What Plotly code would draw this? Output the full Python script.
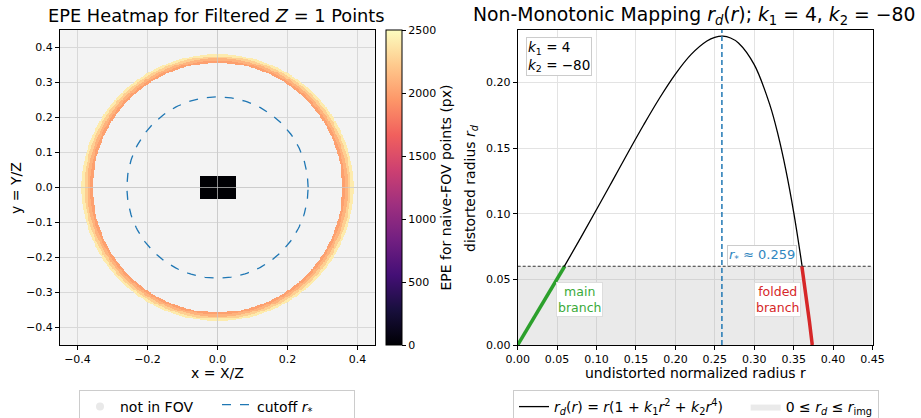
import numpy as np
import plotly.graph_objects as go

# ---------------- data ----------------
# Left panel: grid of normalized image-plane points
grid_min, grid_max, grid_n = -0.45, 0.45, 361
img_half_w, img_half_h = 0.05, 0.0333          # EPE = 0 block (correct points)
ring_inner_x, ring_outer_x = 0.356, 0.388       # folded-branch ring along x
ring_inner_y, ring_outer_y = 0.356, 0.381       # folded-branch ring along y
ring_epe = [2000, 2100, 2250, 2400]             # EPE (px), inner -> outer edge
r_star = 0.259                                  # cutoff radius
epe_range = [0, 2500]
epe_ticks = [0, 500, 1000, 1500, 2000, 2500]

# Right panel: mapping curve r -> r_d
r_vals = [0, 0.02, 0.04, 0.06, 0.08, 0.10, 0.12, 0.14, 0.16, 0.18, 0.20, 0.22,
          0.24, 0.25, 0.26, 0.27, 0.28, 0.30, 0.32, 0.33, 0.34, 0.35, 0.36,
          0.365, 0.37, 0.3736]
rd_vals = [0, 0.0200, 0.0403, 0.0608, 0.0818, 0.1032, 0.1249, 0.1467, 0.1680,
           0.1882, 0.2064, 0.2214, 0.2316, 0.2344, 0.2353, 0.2339, 0.2301,
           0.2136, 0.1826, 0.1607, 0.1337, 0.1013, 0.0629, 0.0412, 0.0179, 0.0]
r_img = 0.06
main_r = [0, 0.02, 0.04, 0.0596]
main_rd = [0, 0.0200, 0.0403, 0.06]
fold_r = [0.3604, 0.365, 0.37, 0.3736]
fold_rd = [0.06, 0.0412, 0.0179, 0.0]

# ---------------- build heatmap grid ----------------
g = np.linspace(grid_min, grid_max, grid_n)
X, Y = np.meshgrid(g, g)
R = np.hypot(X, Y)
c2 = np.where(R > 0, (X / np.where(R > 0, R, 1)) ** 2, 1.0)
inner = ring_inner_y + (ring_inner_x - ring_inner_y) * c2
outer = ring_outer_y + (ring_outer_x - ring_outer_y) * c2
t = (R - inner) / (outer - inner)
Z = np.full(R.shape, np.nan)
ring_mask = (t >= 0) & (t < 1)
idx = np.clip((t * len(ring_epe)).astype(int), 0, len(ring_epe) - 1)
Z[ring_mask] = np.array(ring_epe, dtype=float)[idx[ring_mask]]
Z[(np.abs(X) <= img_half_w) & (np.abs(Y) <= img_half_h)] = 0

W, H = 921, 418
FONT = "DejaVu Sans"

def px_x(p):
    return p / W

def px_y(p):
    return 1 - p / H

fig = go.Figure()

# left heatmap
fig.add_trace(go.Heatmap(
    x=g, y=g, z=Z, zmin=epe_range[0], zmax=epe_range[1],
    colorscale="Magma", zsmooth=False, hoverinfo="skip", showlegend=False,
    xaxis="x", yaxis="y",
    colorbar=dict(
        x=px_x(386), xanchor="left", xpad=0, ypad=0,
        thickness=16, lenmode="pixels", len=315,
        y=px_y(187.5), yanchor="middle",
        outlinewidth=1, outlinecolor="black",
        tickvals=epe_ticks, ticks="outside", ticklen=4, tickcolor="black",
        tickfont=dict(family=FONT, size=11, color="black"),
        title=dict(text="EPE for naive-FOV points (px)", side="right",
                   font=dict(family=FONT, size=14, color="black")),
    ),
))

# legend-only entry for "not in FOV"
fig.add_trace(go.Scatter(
    x=[None], y=[None], mode="markers", name="not in FOV",
    marker=dict(color="#e9e9e9", size=8), xaxis="x", yaxis="y",
    legend="legend",
))

# cutoff circle
theta = np.linspace(0, 2 * np.pi, 240)
fig.add_trace(go.Scatter(
    x=r_star * np.cos(theta), y=r_star * np.sin(theta), mode="lines",
    name="cutoff <i>r</i><sub>*</sub>", fill="toself",
    fillcolor="rgba(255,255,255,0)",
    line=dict(color="#1f77b4", width=1.3, dash="dash"),
    xaxis="x", yaxis="y", legend="legend", hoverinfo="skip",
))

# right panel: band
fig.add_trace(go.Scatter(
    x=[0, 0.45, 0.45, 0, 0], y=[0, 0, r_img, r_img, 0], mode="lines",
    fill="toself", fillcolor="rgba(160,160,160,0.22)",
    line=dict(width=0, color="rgba(0,0,0,0)"),
    name="0 ≤ <i>r<sub>d</sub></i> ≤ <i>r</i><sub>img</sub>",
    xaxis="x2", yaxis="y2", legend="legend2", hoverinfo="skip",
))
# curve
fig.add_trace(go.Scatter(
    x=r_vals, y=rd_vals, mode="lines", line=dict(color="black", width=1.3, shape="spline"),
    name="<i>r<sub>d</sub></i>(<i>r</i>) = <i>r</i>(1 + <i>k</i><sub>1</sub><i>r</i><sup>2</sup> + <i>k</i><sub>2</sub><i>r</i><sup>4</sup>)\u00a0\u00a0\u00a0\u00a0",
    xaxis="x2", yaxis="y2", legend="legend2", hoverinfo="skip",
))
fig.add_trace(go.Scatter(
    x=main_r, y=main_rd, mode="lines", line=dict(color="#2ca02c", width=3.5),
    showlegend=False, xaxis="x2", yaxis="y2", hoverinfo="skip",
))
fig.add_trace(go.Scatter(
    x=fold_r, y=fold_rd, mode="lines", line=dict(color="#d62728", width=3.5),
    showlegend=False, xaxis="x2", yaxis="y2", hoverinfo="skip",
))

# legend order: curve before band
fig.data[3].legendrank = 2
fig.data[4].legendrank = 1

axis_common = dict(
    showline=True, mirror=True, linecolor="black", linewidth=1,
    ticks="outside", ticklen=4, tickcolor="black",
    tickfont=dict(family=FONT, size=11, color="black"),
    zeroline=False, showgrid=True, gridwidth=1,
)

fig.update_layout(
    width=W, height=H, margin=dict(l=0, r=0, t=0, b=0, autoexpand=False),
    paper_bgcolor="white", plot_bgcolor="white",
    font=dict(family=FONT, color="black"),
    xaxis=dict(domain=[px_x(60), px_x(375)], range=[-0.45, 0.45],
               tickvals=[-0.4, -0.2, 0, 0.2, 0.4], tickformat=".1f",
               gridcolor="#d8d8d8", anchor="y", **axis_common),
    yaxis=dict(domain=[px_y(345), px_y(30)], range=[-0.45, 0.45],
               tick0=0, dtick=0.1, tickformat=".1f",
               gridcolor="#d8d8d8", anchor="x", **axis_common),
    xaxis2=dict(domain=[px_x(517.7), px_x(872.5)], range=[0, 0.45],
                tick0=0, dtick=0.05, tickformat=".2f",
                gridcolor="#e3e3e3", anchor="y2", **axis_common),
    yaxis2=dict(domain=[px_y(345), px_y(30)], range=[0, 0.24],
                tick0=0, dtick=0.05, tickformat=".2f",
                gridcolor="#e3e3e3", anchor="x2", **axis_common),
    legend=dict(orientation="h", x=px_x(217), xanchor="center",
                y=px_y(390), yanchor="top", bgcolor="white",
                bordercolor="#cccccc", borderwidth=1, entrywidth=92,
                font=dict(family=FONT, size=14, color="black")),
    legend2=dict(orientation="h", x=px_x(696), xanchor="center",
                 y=px_y(390), yanchor="top", bgcolor="white",
                 bordercolor="#cccccc", borderwidth=1, traceorder="normal",
                 font=dict(family=FONT, size=14, color="black")),
    shapes=[
        dict(type="rect", xref="x domain", yref="y domain", x0=0, x1=1, y0=0, y1=1,
             fillcolor="#f3f3f3", line=dict(width=0), layer="below"),
        dict(type="line", xref="x", yref="y domain", x0=0, x1=0, y0=0, y1=1,
             line=dict(color="rgba(200,200,200,0.7)", width=1), layer="above"),
        dict(type="line", xref="x domain", yref="y", x0=0, x1=1, y0=0, y1=0,
             line=dict(color="rgba(200,200,200,0.7)", width=1), layer="above"),
        dict(type="line", xref="x2 domain", yref="y2", x0=0, x1=1, y0=r_img, y1=r_img,
             line=dict(color="black", width=0.8, dash="3px,2px")),
        dict(type="line", xref="x2", yref="y2 domain", x0=r_star, x1=r_star, y0=0, y1=1,
             line=dict(color="#1f77b4", width=1.5, dash="5px,3px")),
    ],
)

ann = []
# titles
ann.append(dict(text="EPE Heatmap for Filtered <i>Z</i> = 1 Points", xref="paper", yref="paper",
                x=px_x(216), y=px_y(16), xanchor="center", yanchor="middle", showarrow=False,
                font=dict(family=FONT, size=17.8, color="black")))
ann.append(dict(text="Non-Monotonic Mapping <i>r<sub>d</sub></i>(<i>r</i>); <i>k</i><sub>1</sub> = 4, <i>k</i><sub>2</sub> = −80",
                xref="paper", yref="paper", x=px_x(694), y=px_y(16), xanchor="center", yanchor="middle",
                showarrow=False, font=dict(family=FONT, size=18.8, color="black")))
# axis titles
ann.append(dict(text="x = X/Z", xref="paper", yref="paper", x=px_x(217), y=px_y(373),
                xanchor="center", yanchor="middle", showarrow=False,
                font=dict(family=FONT, size=14, color="black")))
ann.append(dict(text="y = Y/Z", xref="paper", yref="paper", x=px_x(16), y=px_y(188),
                xanchor="center", yanchor="middle", showarrow=False, textangle=-90,
                font=dict(family=FONT, size=14, color="black")))
ann.append(dict(text="undistorted normalized radius r", xref="paper", yref="paper", x=px_x(695), y=px_y(373),
                xanchor="center", yanchor="middle", showarrow=False,
                font=dict(family=FONT, size=14, color="black")))
ann.append(dict(text="distorted radius <i>r<sub>d</sub></i>", xref="paper", yref="paper", x=px_x(471), y=px_y(188),
                xanchor="center", yanchor="middle", showarrow=False, textangle=-90,
                font=dict(family=FONT, size=14, color="black")))
# in-plot text
ann.append(dict(text="<i>k</i><sub>1</sub> = 4<br><i>k</i><sub>2</sub> = −80", xref="x2", yref="y2",
                x=0.01, y=0.2345, xanchor="left", yanchor="top", showarrow=False, align="left",
                bgcolor="white", bordercolor="#cccccc", borderwidth=1, borderpad=1,
                font=dict(family=FONT, size=13.5, color="black")))
ann.append(dict(text="<i>r</i><sub>*</sub> ≈ 0.259", xref="x2", yref="y2", x=0.31, y=0.0685,
                xanchor="center", yanchor="middle", showarrow=False,
                bgcolor="white", bordercolor="#cccccc", borderwidth=1, borderpad=1,
                font=dict(family=FONT, size=13, color="#2f86c0")))
ann.append(dict(text="main<br>branch", xref="x2", yref="y2", x=0.079, y=0.0343,
                xanchor="center", yanchor="middle", showarrow=False,
                bgcolor="white", bordercolor="#dddddd", borderwidth=1, borderpad=1,
                font=dict(family=FONT, size=12.5, color="#3aaa3a")))
ann.append(dict(text="folded<br>branch", xref="x2", yref="y2", x=0.33, y=0.0343,
                xanchor="center", yanchor="middle", showarrow=False,
                bgcolor="white", bordercolor="#dddddd", borderwidth=1, borderpad=1,
                font=dict(family=FONT, size=12.5, color="#d62728")))
fig.update_layout(annotations=ann)

fig.write_html("out.html")
